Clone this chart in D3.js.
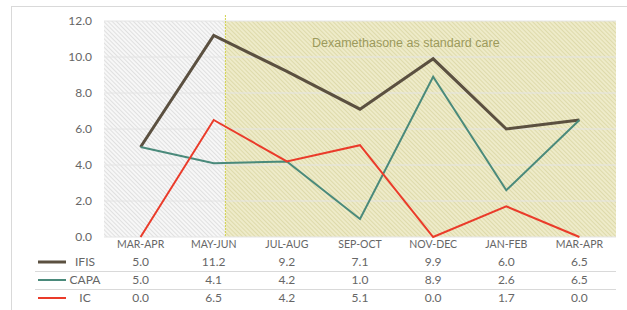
<!DOCTYPE html>
<html>
<head>
<meta charset="utf-8">
<script src="https://cdn.jsdelivr.net/npm/d3@7"></script>
<style>
  body { margin: 0; background: #fff; }
  svg text { font-family: Lato, "Open Sans", sans-serif; }
</style>
</head>
<body>
<div id="chart"></div>
<script>
// chart data
var periods = ["MAR-APR", "MAY-JUN", "JUL-AUG", "SEP-OCT", "NOV-DEC", "JAN-FEB", "MAR-APR"];
var ifis = [5.0, 11.2, 9.2, 7.1, 9.9, 6.0, 6.5];
var capa = [5.0, 4.1, 4.2, 1.0, 8.9, 2.6, 6.5];
var ic = [0.0, 6.5, 4.2, 5.1, 0.0, 1.7, 0.0];
var seriesNames = ["IFIS", "CAPA", "IC"];
var yTicks = [0, 2, 4, 6, 8, 10, 12];
var dexaStart = 1.16; // index position where dexamethasone period begins
var noteText = "Dexamethasone as standard care";

var svgWidth = 627;
var svgHeight = 310;

var margin = { top: 21, left: 104, right: 11, bottom: 73 };
var width = svgWidth - margin.left - margin.right;
var height = svgHeight - margin.top - margin.bottom;

var svg = d3.select("#chart")
    .append("svg")
    .attr("width", svgWidth)
    .attr("height", svgHeight);

// outer frame
svg.append("rect")
    .attr("x", 11.5).attr("y", 6.5)
    .attr("width", svgWidth).attr("height", svgHeight)
    .attr("fill", "none")
    .attr("stroke", "#d9d9d9");

// hatch fills
var defs = svg.append("defs");
var grayPat = defs.append("pattern")
    .attr("id", "grayHatch")
    .attr("patternUnits", "userSpaceOnUse")
    .attr("width", 3).attr("height", 3)
    .attr("patternTransform", "rotate(45)");
grayPat.append("rect").attr("width", 3).attr("height", 3).attr("fill", "#f7f7f7");
grayPat.append("rect").attr("width", 3).attr("height", 1).attr("fill", "#e0e0e0");

var olivePat = defs.append("pattern")
    .attr("id", "oliveHatch")
    .attr("patternUnits", "userSpaceOnUse")
    .attr("width", 3).attr("height", 3)
    .attr("patternTransform", "rotate(45)");
olivePat.append("rect").attr("width", 3).attr("height", 3).attr("fill", "#eeebc9");
olivePat.append("rect").attr("width", 3).attr("height", 1).attr("fill", "#dedaab");

var chartGroup = svg.append("g")
    .attr("transform", `translate(${margin.left}, ${margin.top})`);

var xBand = d3.scaleBand()
    .domain(d3.range(periods.length))
    .range([0, width]);

var xPoint = function(i) {
    return xBand(i) + xBand.bandwidth() / 2;
};

var yLinearScale = d3.scaleLinear()
    .domain([0, 12])
    .range([height, 0]);

var splitX = xPoint(0) + dexaStart * xBand.bandwidth();

// shaded backgrounds
chartGroup.append("rect")
    .attr("x", 0).attr("y", 0)
    .attr("width", splitX).attr("height", height)
    .attr("fill", "url(#grayHatch)");

chartGroup.append("rect")
    .attr("x", splitX).attr("y", 0)
    .attr("width", width - splitX).attr("height", height)
    .attr("fill", "url(#oliveHatch)");

// gridlines
chartGroup.selectAll(".grid")
    .data(yTicks)
    .enter()
    .append("line")
    .attr("x1", 0).attr("x2", width)
    .attr("y1", d => yLinearScale(d)).attr("y2", d => yLinearScale(d))
    .attr("stroke", "#e4e4e4")
    .attr("stroke-width", 1);

// dexamethasone start line
chartGroup.append("line")
    .attr("x1", splitX).attr("x2", splitX)
    .attr("y1", -6).attr("y2", height)
    .attr("stroke", "#d2d24e")
    .attr("stroke-width", 1)
    .attr("stroke-dasharray", "2,1");

chartGroup.append("text")
    .attr("x", 208)
    .attr("y", 26)
    .attr("fill", "#9c9a5c")
    .style("font-family", "'Liberation Sans', Arial, sans-serif")
    .style("font-size", "12.5px")
    .text(noteText);

// y axis labels
var leftAxis = d3.axisLeft(yLinearScale)
    .tickValues(yTicks)
    .tickFormat(d3.format(".1f"))
    .tickSize(0)
    .tickPadding(12);

var yAxis = chartGroup.append("g").call(leftAxis);
yAxis.select(".domain").remove();
yAxis.selectAll("text")
    .attr("fill", "#666")
    .style("font-size", "12px");

// x axis labels
var bottomAxis = d3.axisBottom(xBand)
    .tickFormat(i => periods[i])
    .tickSize(0)
    .tickPadding(4);

var xAxis = chartGroup.append("g")
    .attr("transform", `translate(0, ${height})`)
    .call(bottomAxis);
xAxis.select(".domain").remove();
xAxis.selectAll("text")
    .attr("fill", "#666")
    .style("font-size", "10.5px");

// series lines
var seriesData = [ifis, capa, ic];
var colors = ["#5b5040", "#4a8a7b", "#ea3b2a"];
var widths = [3, 2, 2];

var line = d3.line()
    .x((d, i) => xPoint(i))
    .y(d => yLinearScale(d));

seriesData.forEach(function(vals, s) {
    chartGroup.append("path")
        .datum(vals)
        .attr("d", line)
        .attr("fill", "none")
        .attr("stroke", colors[s])
        .attr("stroke-width", widths[s])
        .attr("stroke-linejoin", "miter");
});

// data table
var rowY = [262, 280, 298];
var tableGroup = svg.append("g");

[271, 289].forEach(function(y) {
    tableGroup.append("line")
        .attr("x1", 35).attr("x2", margin.left + width)
        .attr("y1", y + 0.5).attr("y2", y + 0.5)
        .attr("stroke", "#d9d9d9");
});

seriesData.forEach(function(vals, s) {
    var y = rowY[s];
    tableGroup.append("line")
        .attr("x1", 38).attr("x2", 66)
        .attr("y1", y).attr("y2", y)
        .attr("stroke", colors[s])
        .attr("stroke-width", widths[s]);

    tableGroup.append("text")
        .attr("x", 85).attr("y", y)
        .attr("dy", "0.35em")
        .attr("text-anchor", "middle")
        .attr("fill", "#666")
        .style("font-size", "12px")
        .text(seriesNames[s]);

    tableGroup.selectAll(null)
        .data(vals)
        .enter()
        .append("text")
        .attr("x", (d, i) => margin.left + xPoint(i))
        .attr("y", y)
        .attr("dy", "0.35em")
        .attr("text-anchor", "middle")
        .attr("fill", "#666")
        .style("font-size", "12px")
        .text(d => d3.format(".1f")(d));
});
</script>
</body>
</html>
